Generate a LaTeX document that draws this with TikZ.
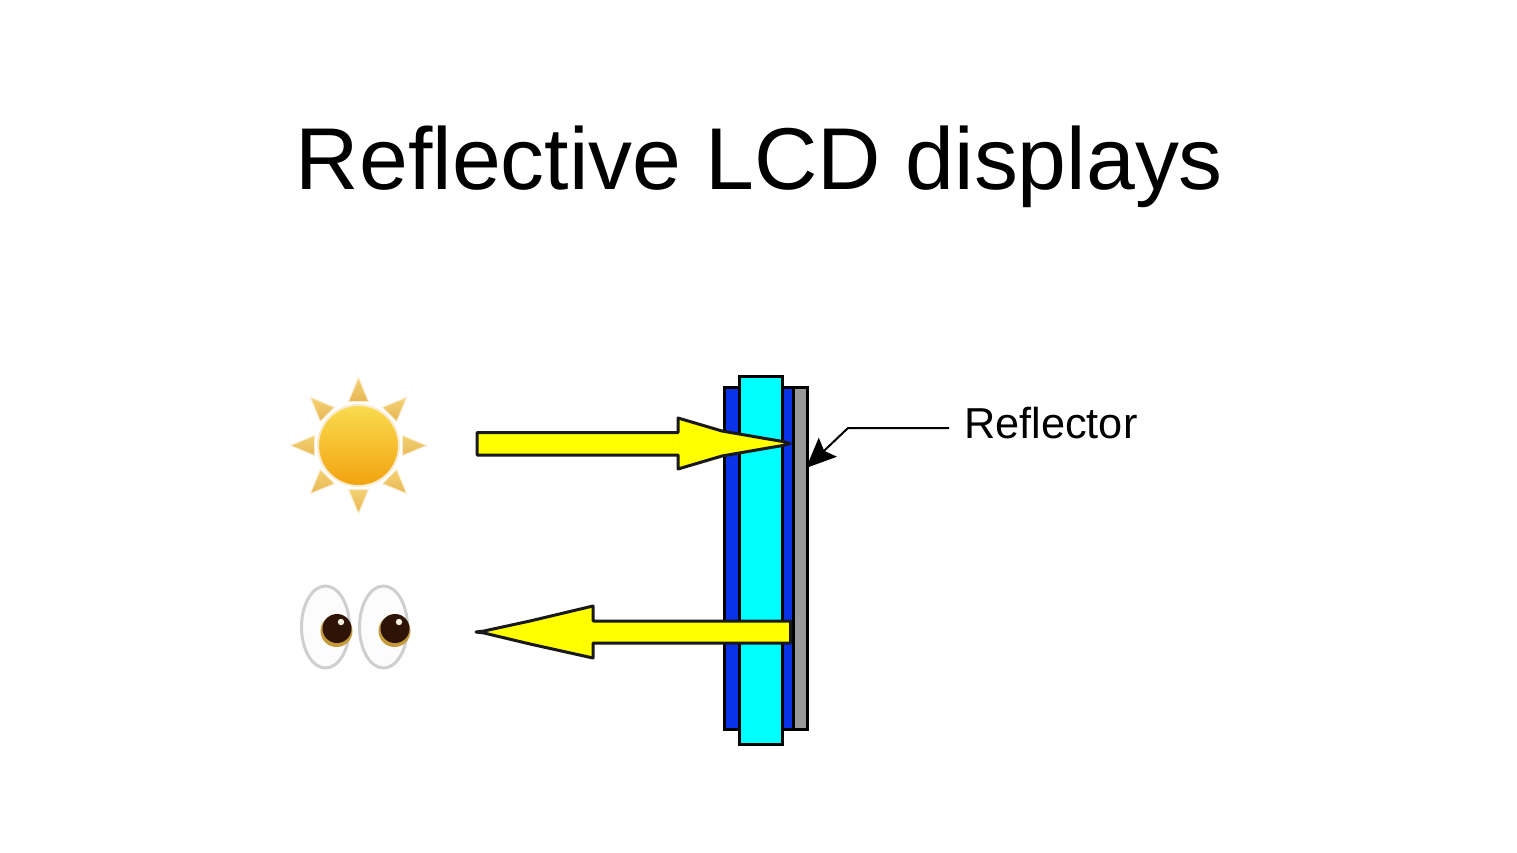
\documentclass[tikz,border=0pt]{standalone}
\usepackage{fontspec}
\setmainfont{Liberation Sans}
\usetikzlibrary{arrows.meta}
\definecolor{lcdblue}{HTML}{0A32E6}
\definecolor{lcdcyan}{HTML}{00FFFF}
\definecolor{lcdgrey}{HTML}{999999}
\definecolor{lcdyellow}{HTML}{FFFF00}
\definecolor{sunlight}{HTML}{F9DC50}
\definecolor{sunmid}{HTML}{F6BC22}
\definecolor{sundark}{HTML}{F2A20E}
\definecolor{raytop}{HTML}{F3D272}
\definecolor{raybase}{HTML}{E8B655}
\definecolor{halo}{HTML}{FBEBCB}
\definecolor{eyerim}{HTML}{CFCFCF}
\definecolor{iris}{HTML}{2E1404}
\definecolor{irisrim}{HTML}{C49A3A}
\tikzset{
  panel/.style={draw=black,line width=3pt,line join=miter},
  beam/.style={draw=black!90,line width=3pt,fill=lcdyellow,line join=round},
  sunray/.style={draw=halo,line width=1pt,bottom color=raybase,top color=raytop},
  eyeball/.style={draw=eyerim,line width=3pt,fill=white!99!black},
  leader/.style={draw=black,line width=2pt},
}
\begin{document}
\begin{tikzpicture}[x=1pt,y=-1pt]
\useasboundingbox (0,0) rectangle (1517,853);
\fill[white] (0,0) rectangle (1517,853);
% title
\node[anchor=center,inner sep=0pt,font=\fontsize{87.8}{100}\selectfont] (title) at (759.5,167) {Reflective LCD displays};
% sun
\foreach \a in {0,45,...,315}{
  \begin{scope}[shift={(358.5,445.5)},rotate=\a]
    \path[sunray] (-10,-44) -- (0,-68) -- (10,-44) -- cycle;
  \end{scope}
}
\shade[top color=sunlight,middle color=sunmid,bottom color=sundark,draw=halo,line width=2pt] (358.5,445.5) circle (40.5);
\node[inner sep=0pt,minimum size=0pt] (sun) at (358.5,445.5) {};
% eyes
\draw[eyeball] (325.5,627) ellipse (24 and 41);
\draw[eyeball] (383.5,627) ellipse (24 and 41);
\fill[irisrim] (336.5,631) circle (16);
\fill[iris] (337,628.5) circle (14.5);
\fill[white!85!irisrim] (341,622) circle (3.2);
\fill[irisrim] (394.5,631) circle (16);
\fill[iris] (395,628.5) circle (14.5);
\fill[white!85!irisrim] (399,622) circle (3.2);
% LCD stack
\node[panel,fill=lcdgrey,anchor=north west,inner sep=0pt,minimum width=14.5pt,minimum height=341.5pt] (reflector) at (791.5,386) {};
\node[panel,fill=lcdblue,anchor=north west,inner sep=0pt,minimum width=68.5pt,minimum height=341.5pt] (polar) at (723,386) {};
\node[panel,fill=lcdcyan,anchor=north west,inner sep=0pt,minimum width=43.5pt,minimum height=367.5pt] (lc) at (737.5,375) {};
% beams
\path[beam] (477,432.5) -- (678,432.5) -- (678,418) -- (722,431) -- (768,439) -- (783,441.5) -- (790,443.5) -- (783,445.5) -- (768,448) -- (722,456) -- (678,469) -- (678,455) -- (477,455) -- cycle;
\path[beam] (790.5,621) -- (593,621) -- (593,606) -- (530,621) -- (484,631) -- (476,632) -- (484,633) -- (530,644) -- (593,658) -- (593,643) -- (790.5,643) -- cycle;
% reflector label
\node[anchor=west,inner sep=0pt,font=\fontsize{43.3}{50}\selectfont] (label) at (964,423) {Reflector};
\coordinate (bend) at (848,428);
\coordinate (target) at (806,468);
\draw[leader,-{Stealth[length=30pt,width=26pt,inset=5pt]}] (label.west |- bend) ++(-15,0) -- (bend) -- (target);
\end{tikzpicture}
\end{document}
